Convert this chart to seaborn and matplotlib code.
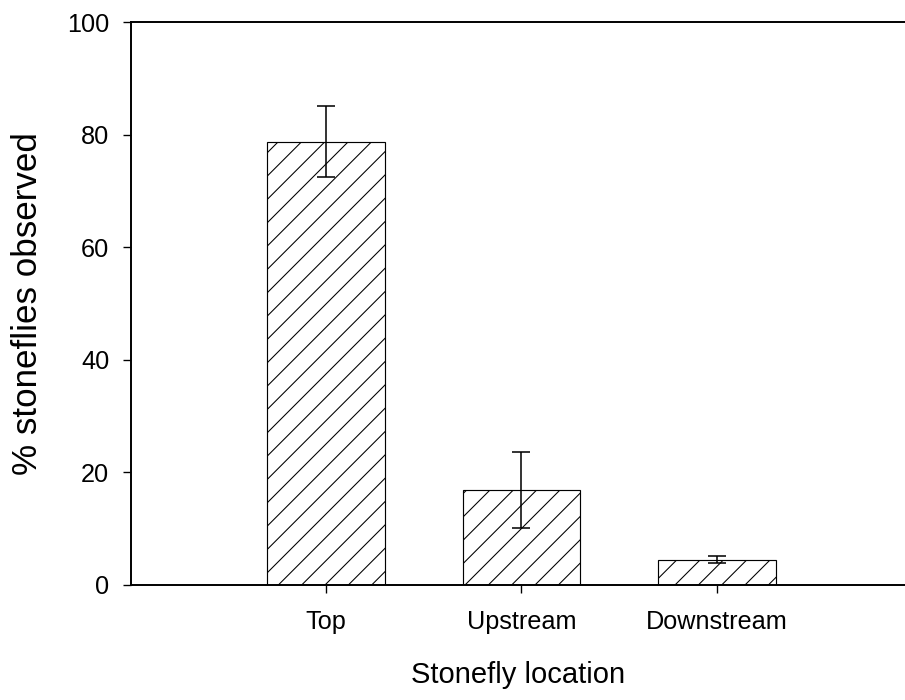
import matplotlib
matplotlib.use("Agg")
import matplotlib.pyplot as plt
import seaborn as sns
import pandas as pd

locations = ["Top", "Upstream", "Downstream"]
pct_observed = [78.7, 16.9, 4.5]
pct_error = [6.3, 6.8, 0.6]
y_ticks = [0, 20, 40, 60, 80, 100]

sns.set_style("ticks")
plt.rcParams["font.family"] = ["Liberation Sans", "DejaVu Sans"]
plt.rcParams["hatch.linewidth"] = 0.55
plt.rcParams["text.color"] = "black"
plt.rcParams["axes.labelcolor"] = "black"

df = pd.DataFrame({"location": locations, "pct": pct_observed})

DPI = 140
fig = plt.figure(figsize=(905 / DPI, 700 / DPI), dpi=DPI)
ax = fig.add_axes([131 / 905, 1 - 585 / 700, 1 - 131 / 905, (585 - 22) / 700])

sns.barplot(data=df, x="location", y="pct", order=locations, ax=ax,
            color="white", edgecolor="black", linewidth=0.6, hatch="//",
            width=0.6, errorbar=None, saturation=1)
ax.errorbar(x=list(range(len(locations))), y=pct_observed, yerr=pct_error,
            fmt="none", ecolor="black", elinewidth=0.8, capsize=4.4,
            capthick=0.8, zorder=5)

ax.set_xlim(-0.997, 2.962)
ax.set_ylim(0, 100)
ax.set_yticks(y_ticks)
ax.set_yticklabels([str(t) for t in y_ticks])

for s in ["left", "top", "bottom"]:
    ax.spines[s].set_linewidth(1.0)
    ax.spines[s].set_color("black")
ax.spines["right"].set_visible(False)

ax.tick_params(axis="both", direction="out", length=4.2, width=0.7,
               colors="black", labelcolor="black", labelsize=13)
ax.tick_params(axis="y", pad=7.0)
ax.tick_params(axis="x", pad=8.5)

ax.set_xlabel("Stonefly location", fontsize=15, labelpad=14, color="black")
ax.set_ylabel("% stoneflies observed", fontsize=18, labelpad=12, color="black")

fig.savefig("out.png", dpi=DPI)
